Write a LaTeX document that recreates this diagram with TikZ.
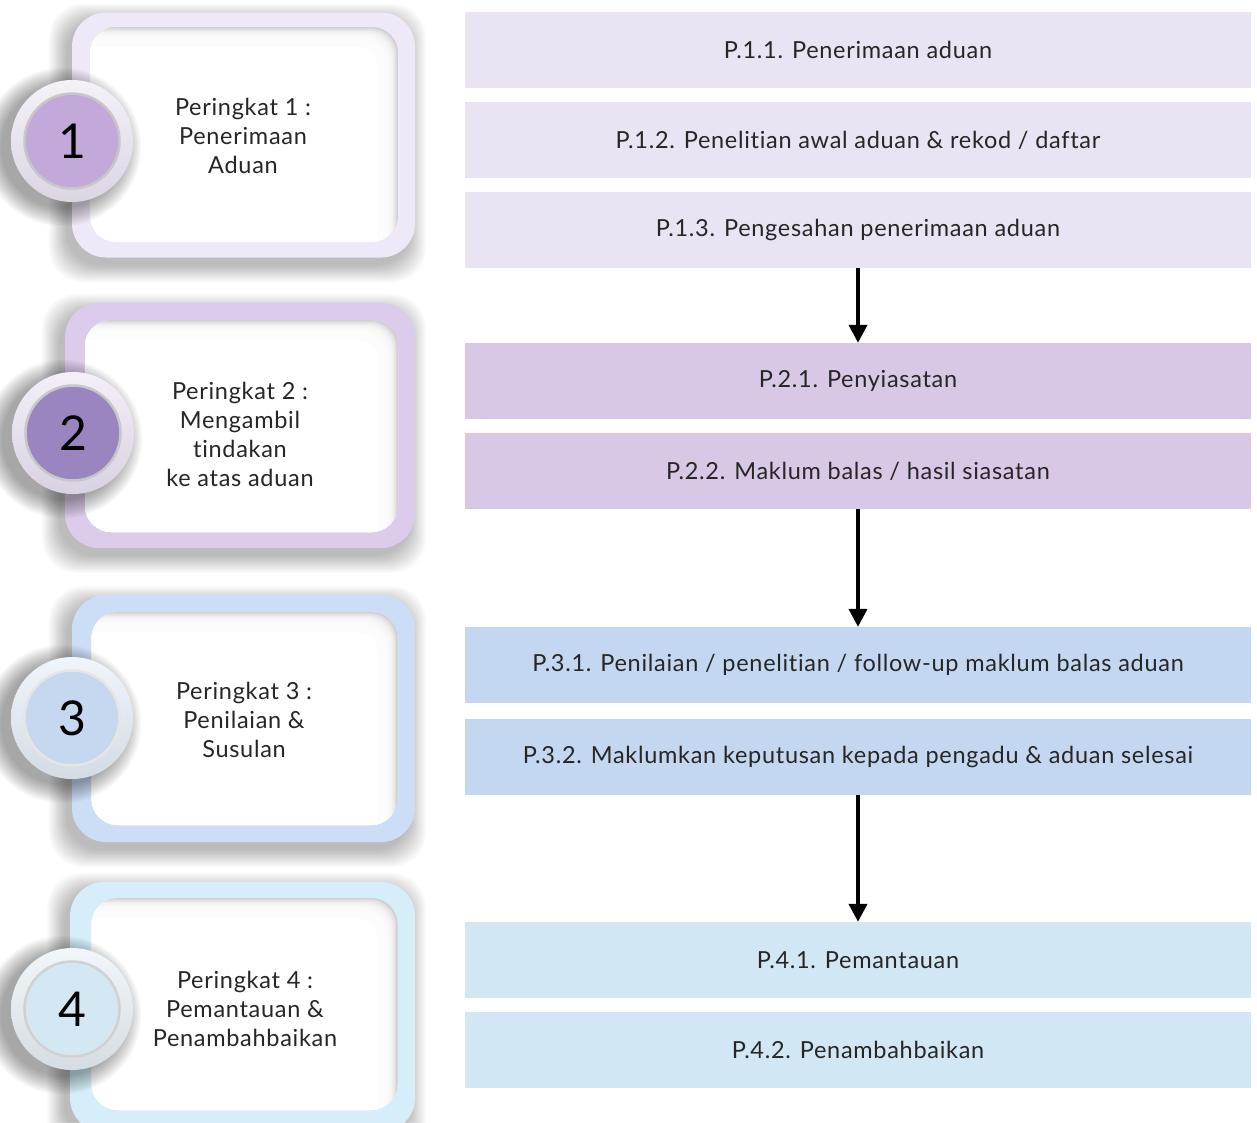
\documentclass[tikz,border=0pt]{standalone}
\usepackage{fontspec}
\setmainfont{Lato}[Ligatures={NoCommon},LetterSpace=3]
\usetikzlibrary{arrows.meta}
\definecolor{fA}{HTML}{EFE8F8}\definecolor{dA}{HTML}{C3A9D9}\definecolor{gA}{HTML}{EEE8F5}\definecolor{bA}{HTML}{EAE3F3}
\definecolor{fB}{HTML}{DCCBEB}\definecolor{dB}{HTML}{9B85C0}\definecolor{gB}{HTML}{ECE4F4}\definecolor{bB}{HTML}{D8C8E5}
\definecolor{fC}{HTML}{CCDDF6}\definecolor{dC}{HTML}{C6D8F0}\definecolor{gC}{HTML}{E6EEF8}\definecolor{bC}{HTML}{C4D7F1}
\definecolor{fD}{HTML}{D5EEF9}\definecolor{dD}{HTML}{D3E8F3}\definecolor{gD}{HTML}{E8F0F6}\definecolor{bD}{HTML}{D2E7F4}
\tikzset{
  frame/.style={rectangle,rounded corners=34pt,inner sep=0pt,draw=none},
  pane/.style={rectangle,rounded corners=26pt,inner sep=0pt,fill=white,draw=none},
  ring/.style={circle,inner sep=0pt,minimum size=122pt},
  disk/.style={circle,inner sep=0pt,minimum size=95pt,draw=black!22,line width=2.5pt,font=\fontsize{48}{48}\selectfont},
  stagetxt/.style={align=center,font=\fontsize{23.5}{29}\selectfont,text=black!85},
  stepbox/.style={rectangle,inner sep=0pt,minimum width=786pt,minimum height=76pt,font=\fontsize{23.5}{26}\selectfont,text=black!85},
  arr/.style={line width=4pt,-{Triangle[width=18pt,length=18pt]}}
}
% soft shadow behind a rounded rectangle: x1 y1 x2 y2
\newcommand\rectshade[4]{%
  \foreach \k in {0,...,13}{%
    \fill[black,opacity=0.02,rounded corners=34pt]
      ({#1-6-\k*1.3},{#2+8-\k*1.3}) rectangle ({#3-6+\k*1.3},{#4+8+\k*1.3});}}
% soft shadow behind a circle: cx cy
\newcommand\ringshade[2]{%
  \foreach \k in {0,...,13}{%
    \fill[black,opacity=0.026] ({#1-10},{#2+6}) circle ({61+\k*1.4});}}
% inner shadow of the white pane: x1 y1 x2 y2
\newcommand\paneshade[4]{%
  \begin{scope}
    \clip[rounded corners=26pt] (#1,#2) rectangle (#3,#4);
    \fill[black!26] (#1,#2) rectangle (#3,#4);
    \foreach \k in {0,...,13}{%
      \fill[white,opacity=0.3,rounded corners=26pt]
        ({#1-30},{#2+\k*1.3}) rectangle ({#3-\k*1.3},{#4+30});}
    \fill[white,rounded corners=20pt] ({#1-30},{#2+20}) rectangle ({#3-20},{#4+30});
  \end{scope}}
\begin{document}
\begin{tikzpicture}[x=1pt,y=-1pt]
\useasboundingbox (0,0) rectangle (1257,1122);
\clip (0,0) rectangle (1257,1122);
\fill[white] (0,0) rectangle (1257,1122);

% Stage 1
\rectshade{72}{12.5}{415}{257.5}
\node[frame,fill=fA,minimum width=343pt,minimum height=245pt] (f1) at (243.5,135) {};
\node[pane,minimum width=308pt,minimum height=215pt] (p1) at (244,134.5) {};
\paneshade{90}{27}{398}{242}
\node[stagetxt] (t1) at (243,136) {Peringkat 1 :\\Penerimaan\\Aduan};
\ringshade{72}{141}
\node[ring,top color=gA!60!white,bottom color=gA!92!black] (r1) at (72,141) {};
\node[disk,fill=dA] (d1) at (72,141) {1};

% Stage 2
\rectshade{65}{303}{415}{548}
\node[frame,fill=fB,minimum width=350pt,minimum height=245pt] (f2) at (240,425.5) {};
\node[pane,minimum width=313pt,minimum height=212pt] (p2) at (241.5,426) {};
\paneshade{85}{320}{398}{532}
\node[stagetxt] (t2) at (240,434) {Peringkat 2 :\\Mengambil\\tindakan\\ke atas aduan};
\ringshade{73}{433}
\node[ring,top color=gB!60!white,bottom color=gB!92!black] (r2) at (73,433) {};
\node[disk,fill=dB] (d2) at (73,433) {2};

% Stage 3
\rectshade{72}{595}{415}{842}
\node[frame,fill=fC,minimum width=343pt,minimum height=247pt] (f3) at (243.5,718.5) {};
\node[pane,minimum width=306pt,minimum height=213pt] (p3) at (244.5,718.5) {};
\paneshade{91.5}{612}{397.5}{825}
\node[stagetxt] (t3) at (244,720) {Peringkat 3 :\\Penilaian \&\\Susulan};
\ringshade{72}{718}
\node[ring,top color=gC!60!white,bottom color=gC!92!black] (r3) at (72,718) {};
\node[disk,fill=dC,draw=black!10] (d3) at (72,718) {3};

% Stage 4
\rectshade{70}{882}{415}{1132}
\node[frame,fill=fD,minimum width=345pt,minimum height=250pt] (f4) at (242.5,1007) {};
\node[pane,minimum width=306pt,minimum height=212pt] (p4) at (244.5,1004) {};
\paneshade{91.5}{898}{397.5}{1110}
\node[stagetxt] (t4) at (245,1009) {Peringkat 4 :\\Pemantauan \&\\Penambahbaikan};
\ringshade{72}{1009}
\node[ring,top color=gD!60!white,bottom color=gD!92!black] (r4) at (72,1009) {};
\node[disk,fill=dD,draw=black!18] (d4) at (72,1009) {4};

% Steps
\node[stepbox,fill=bA] (s11) at (858,50) {P.1.1. Penerimaan aduan};
\node[stepbox,fill=bA] (s12) at (858,140) {P.1.2. Penelitian awal aduan \& rekod / daftar};
\node[stepbox,fill=bA] (s13) at (858,229.5) {P.1.3. Pengesahan penerimaan aduan};
\node[stepbox,fill=bB] (s21) at (858,381) {P.2.1. Penyiasatan};
\node[stepbox,fill=bB] (s22) at (858,471) {P.2.2. Maklum balas / hasil siasatan};
\node[stepbox,fill=bC] (s31) at (858,665) {P.3.1. Penilaian / penelitian / follow-up maklum balas aduan};
\node[stepbox,fill=bC] (s32) at (858,757) {P.3.2. Maklumkan keputusan kepada pengadu \& aduan selesai};
\node[stepbox,fill=bD] (s41) at (858,960) {P.4.1. Pemantauan};
\node[stepbox,fill=bD] (s42) at (858,1050) {P.4.2. Penambahbaikan};

\draw[arr] (s13.south) -- (s21.north);
\draw[arr] (s22.south) -- (s31.north);
\draw[arr] (s32.south) -- (s41.north);
\end{tikzpicture}
\end{document}
